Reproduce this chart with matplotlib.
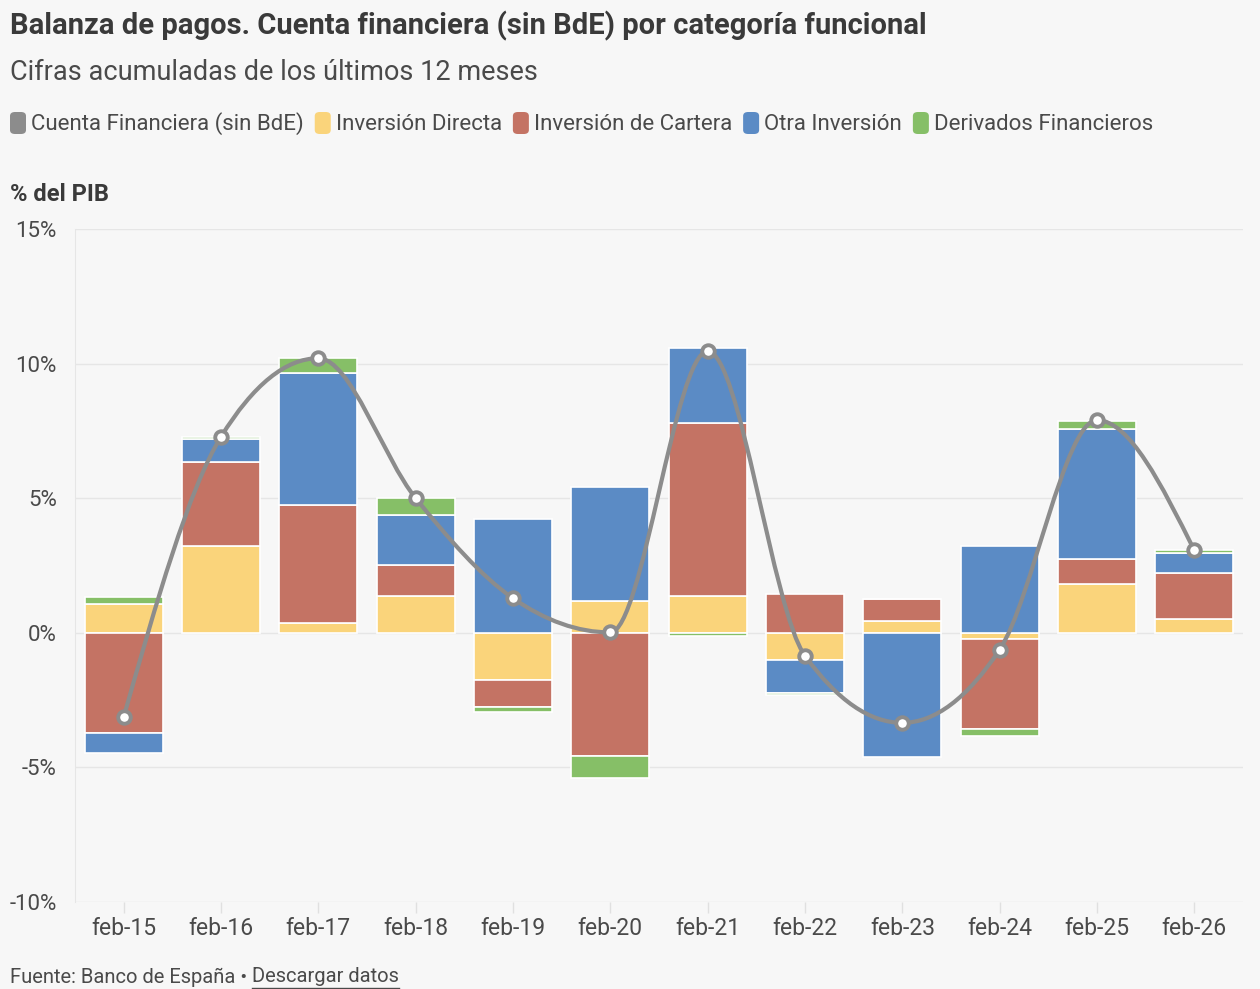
# balanza_pagos_cuenta_financiera.py
# Stacked bars by functional category + smooth line for total financial account

import numpy as np
import matplotlib.pyplot as plt
from matplotlib.path import Path
from matplotlib.patches import PathPatch, FancyBboxPatch
from matplotlib.lines import Line2D

plt.rcParams['font.family'] = ['Roboto', 'DejaVu Sans']

# ---------- data (% del PIB) ----------
PERIODS   = ["feb-15", "feb-16", "feb-17", "feb-18", "feb-19", "feb-20",
             "feb-21", "feb-22", "feb-23", "feb-24", "feb-25", "feb-26"]
directa   = [1.06, 3.24, 0.37, 1.36, -1.74, 1.19, 1.38, -1.01, 0.44, -0.24, 1.83, 0.51]
cartera   = [-3.71, 3.10, 4.39, 1.17, -1.03, -4.56, 6.43, 1.45, 0.82, -3.34, 0.93, 1.72]
otra      = [-0.74, 0.86, 4.89, 1.86, 4.22, 4.24, 2.78, -1.21, -4.60, 3.22, 4.82, 0.75]
derivados = [0.26, 0.10, 0.56, 0.64, -0.17, -0.83, -0.12, -0.08, 0.00, -0.26, 0.31, 0.09]
cuenta    = [-3.13, 7.29, 10.21, 5.01, 1.29, 0.02, 10.47, -0.85, -3.34, -0.62, 7.91, 3.07]

SERIES = [
    ("Inversión Directa", directa, "#FAD47B"),
    ("Inversión de Cartera", cartera, "#C47364"),
    ("Otra Inversión", otra, "#5B8BC5"),
    ("Derivados Financieros", derivados, "#86BF67"),
]
LINE_NAME  = "Cuenta Financiera (sin BdE)"
LINE_COLOR = "#8C8C8C"
BG         = "#F7F7F7"
TXT        = "#3A3A3A"
TXT2       = "#4A4A4A"


# ---------- helpers ----------
def monotone_path(x, y):
    """monotone-x cubic (like d3.curveMonotoneX) as bezier path"""
    x = np.asarray(x, float); y = np.asarray(y, float)
    n = len(x)
    h = np.diff(x)
    s = np.diff(y) / h
    t = np.zeros(n)
    for i in range(1, n - 1):
        s0, s1 = s[i-1], s[i]
        p = (s0 * h[i] + s1 * h[i-1]) / (h[i-1] + h[i])
        t[i] = (np.sign(s0) + np.sign(s1)) * min(abs(s0), abs(s1), 0.5 * abs(p))
    t[0] = (3 * s[0] - t[1]) / 2
    t[-1] = (3 * s[-1] - t[-2]) / 2
    verts = [(x[0], y[0])]
    codes = [Path.MOVETO]
    for i in range(n - 1):
        dx = h[i] / 3
        verts += [(x[i] + dx, y[i] + dx * t[i]),
                  (x[i+1] - dx, y[i+1] - dx * t[i+1]),
                  (x[i+1], y[i+1])]
        codes += [Path.CURVE4] * 3
    return Path(verts, codes)


# ---------- figure ----------
fig = plt.figure(figsize=(12.6, 9.89), dpi=100, facecolor=BG)
ax = fig.add_axes([0.0595, 0.088, 0.927, 0.680])
ax.set_facecolor(BG)

x = np.arange(len(PERIODS))
pos_base = np.zeros(len(x))
neg_base = np.zeros(len(x))
for name, vals, col in SERIES:
    v = np.asarray(vals, float)
    base = np.where(v >= 0, pos_base, neg_base)
    ax.bar(x, v, bottom=base, width=0.8, color=col, edgecolor="white",
           linewidth=1.2, zorder=2)
    pos_base += np.where(v >= 0, v, 0)
    neg_base += np.where(v < 0, v, 0)

ax.add_patch(PathPatch(monotone_path(x, cuenta), facecolor="none",
                       edgecolor=LINE_COLOR, linewidth=3.0, zorder=3,
                       capstyle="round", joinstyle="round"))
ax.plot(x, cuenta, linestyle="none", marker="o", markersize=9,
        markerfacecolor="white", markeredgecolor=LINE_COLOR,
        markeredgewidth=2.8, zorder=4)

ax.set_xlim(-0.5, 11.5)
ax.set_ylim(-10, 15)
ax.set_yticks([-10, -5, 0, 5, 10, 15])
ax.set_yticklabels(["-10%", "-5%", "0%", "5%", "10%", "15%"])
ax.set_xticks(x)
ax.set_xticklabels(PERIODS)
ax.grid(axis="y", color="#E6E6E6", linewidth=1.0, zorder=0)
ax.set_axisbelow(True)
for side in ["top", "right", "bottom"]:
    ax.spines[side].set_visible(False)
ax.spines["left"].set_color("#E6E6E6")
ax.tick_params(axis="y", length=0, pad=13, labelsize=16, labelcolor=TXT2)
ax.tick_params(axis="x", length=8, width=1, color="#E0E0E0", pad=3,
               labelsize=16.5, labelcolor=TXT2)

# ---------- titles ----------
fig.text(0.008, 0.974, "Balanza de pagos. Cuenta financiera (sin BdE) por categoría funcional",
         fontsize=21, fontweight="bold", color=TXT, va="center")
fig.text(0.008, 0.927, "Cifras acumuladas de los últimos 12 meses",
         fontsize=19.5, color=TXT2, va="center")
fig.text(0.008, 0.803, "% del PIB", fontsize=17, fontweight="bold",
         color=TXT, va="center")

# ---------- legend (manual, left to right) ----------
fig.canvas.draw()
renderer = fig.canvas.get_renderer()
W, H = fig.get_size_inches() * fig.dpi
xpos = 10
ly = 1 - 124 / H
items = [(LINE_NAME, LINE_COLOR)] + [(n, c) for n, _, c in SERIES]
for name, col in items:
    fig.patches.append(FancyBboxPatch((xpos / W, ly - 10 / H), 16 / W, 22 / H,
                                      boxstyle="round,pad=0,rounding_size=0.004",
                                      transform=fig.transFigure, facecolor=col,
                                      edgecolor="none"))
    t = fig.text((xpos + 21) / W, ly, name, fontsize=16, color=TXT2, va="center")
    bb = t.get_window_extent(renderer)
    xpos = bb.x1 + 11

# ---------- footer ----------
f1 = fig.text(0.008, 1 - 977 / H, "Fuente: Banco de España • ", fontsize=14.5,
              color=TXT2, va="center")
bb = f1.get_window_extent(renderer)
f2 = fig.text(bb.x1 / W, 1 - 977 / H, "Descargar datos", fontsize=14.5,
              color=TXT2, va="center")
bb2 = f2.get_window_extent(renderer)
fig.lines.append(Line2D([bb2.x0 / W, bb2.x1 / W], [(bb2.y0 - 1) / H] * 2,
                        transform=fig.transFigure, color=TXT2, linewidth=1))

plt.savefig("out.png", dpi=100, facecolor=BG)
print("Saved: out.png")
